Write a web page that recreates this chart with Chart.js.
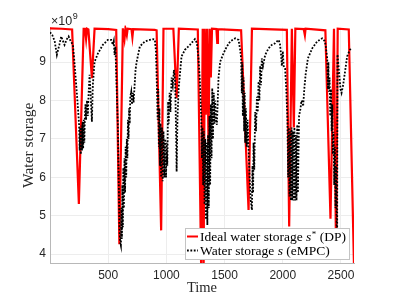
<!DOCTYPE html>
<html>
<head>
<meta charset="utf-8">
<script src="https://cdn.jsdelivr.net/npm/chart.js@4/dist/chart.umd.min.js"></script>
<style>
    body { margin: 0; background: #fff; }
    #wrap { width: 399px; height: 299px; }
</style>
</head>
<body>
<div id="wrap"><canvas id="myChart" width="399" height="299"></canvas></div>
<script>
// storage values are in units of 1e9 (axis shows x10^9)
var dpTime = [0, 100, 190, 248, 289, 300, 310, 318, 330, 360, 383, 500, 569, 596, 626,
    640, 648, 660, 667, 700, 708, 715, 900, 916, 955, 975, 1060, 1088, 1107, 1270,
    1299, 1312, 1320, 1330, 1339, 1350, 1362, 1372, 1382, 1392, 1430, 1437, 1443, 1642, 1706,
    1735, 2035, 2055, 2078, 2095, 2108, 2180, 2190, 2196, 2366, 2410, 2440, 2458, 2472, 2567,
    2612];
var dpStorage = [9.88, 9.87, 9.85, 5.31, 9.87, 9.87, 9.6, 9.87, 9.85, 8.58, 9.87, 9.86, 9.84, 4.26, 9.88,
    9.6, 9.87, 9.7, 9.87, 9.86, 9.65, 9.86, 9.84, 9.83, 4.62, 9.87, 9.87, 8.06, 9.87, 9.85,
    3.6, 9.87, 3.6, 9.87, 7.63, 9.87, 6.85, 9.87, 8.6, 9.87, 9.86, 9.5, 9.86, 9.83, 5.15,
    9.87, 9.84, 4.72, 9.87, 7.3, 9.87, 9.86, 9.7, 9.87, 9.83, 4.92, 9.87, 3.85, 9.87, 9.85,
    3.7];

var mpcTime = [
    0, 20, 40, 59, 80, 96, 112, 125, 145, 160, 177, 197, 210, 225, 238, 250,
    255, 260, 265, 270, 275, 280, 285, 290, 295, 300, 305, 310, 318, 325, 332, 340,
    350, 360, 368, 383, 412, 454, 497, 526, 540, 548, 555, 562, 569, 576, 583, 590,
    598, 603, 609, 614, 618, 622, 626, 630, 635, 640, 645, 650, 655, 660, 665, 670,
    675, 680, 685, 690, 698, 705, 712, 718, 735, 744, 772, 815, 858, 887, 901, 910,
    916, 925, 930, 935, 940, 945, 950, 955, 962, 968, 975, 982, 990, 997, 1002, 1008,
    1015, 1020, 1028, 1035, 1045, 1055, 1065, 1075, 1082, 1088, 1095, 1105, 1116, 1130, 1159, 1202,
    1245, 1262, 1276, 1288, 1300, 1305, 1310, 1316, 1322, 1328, 1334, 1340, 1346, 1352, 1358, 1364,
    1370, 1376, 1382, 1388, 1394, 1400, 1407, 1413, 1419, 1427, 1434, 1448, 1462, 1491, 1520, 1548,
    1591, 1620, 1635, 1642, 1648, 1652, 1657, 1663, 1668, 1673, 1677, 1683, 1690, 1697, 1706, 1715,
    1725, 1735, 1740, 1745, 1749, 1755, 1763, 1770, 1778, 1785, 1792, 1799, 1806, 1813, 1820, 1830,
    1849, 1878, 1906, 1934, 1963, 1975, 1985, 1992, 2000, 2008, 2020, 2030, 2040, 2046, 2052, 2058,
    2064, 2070, 2076, 2082, 2088, 2094, 2100, 2106, 2112, 2118, 2124, 2130, 2140, 2153, 2160, 2167,
    2175, 2185, 2196, 2216, 2253, 2296, 2339, 2360, 2368, 2382, 2388, 2392, 2396, 2402, 2408, 2414,
    2420, 2425, 2430, 2436, 2442, 2448, 2453, 2458, 2463, 2467, 2470, 2482, 2496, 2505, 2519, 2539,
    2553, 2576, 2585];
var mpcStorage = [
    9.78, 9.70, 9.55, 9.19, 9.45, 9.67, 9.55, 9.45, 9.6, 9.67, 9.55, 9.45, 9.0, 8.41, 7.9, 7.37,
    6.7, 7.3, 6.6, 7.35, 6.7, 7.45, 6.75, 7.5, 6.9, 7.6, 7.9, 7.5, 8.0, 7.6, 8.2, 8.67,
    8.1, 7.45, 8.4, 9.01, 9.23, 9.45, 9.58, 9.58, 9.45, 9.55, 9.19, 9.4, 8.67, 8.0, 7.37, 6.0,
    4.6, 4.3, 4.22, 5.2, 4.4, 5.8, 4.7, 6.25, 5.2, 6.5, 5.6, 6.8, 6.0, 7.0, 6.5, 7.5,
    7.0, 7.8, 7.4, 8.1, 8.23, 7.9, 8.2, 7.95, 8.8, 9.0, 9.41, 9.54, 9.58, 9.6, 9.58, 9.3,
    8.67, 7.5, 8.3, 6.8, 7.8, 6.3, 7.4, 6.0, 7.3, 5.9, 7.2, 6.0, 7.0, 6.0, 6.9, 6.3,
    7.97, 7.4, 8.2, 7.7, 8.6, 8.4, 8.8, 8.5, 7.4, 6.15, 7.5, 8.3, 8.67, 9.15, 9.32, 9.45,
    9.6, 9.5, 9.1, 8.5, 7.5, 6.5, 7.3, 5.8, 7.2, 5.3, 7.0, 4.9, 6.9, 4.76, 7.1, 5.2,
    7.6, 5.8, 7.9, 6.5, 8.32, 7.0, 8.2, 7.4, 8.0, 7.5, 7.37, 8.6, 9.01, 9.23, 9.41, 9.54,
    9.62, 9.58, 9.3, 9.1, 8.2, 9.0, 7.6, 8.6, 7.2, 8.2, 6.9, 7.8, 6.8, 7.5, 6.77, 6.0,
    5.4, 5.15, 6.3, 5.6, 6.9, 6.2, 7.7, 7.2, 8.1, 7.7, 8.5, 8.0, 8.9, 8.4, 9.1, 8.9,
    9.19, 9.36, 9.45, 9.49, 9.58, 9.5, 9.2, 8.9, 9.28, 8.9, 8.84, 8.3, 7.5, 6.0, 7.3, 5.5,
    7.2, 5.4, 7.3, 5.4, 7.2, 5.4, 7.3, 5.4, 7.1, 5.4, 7.37, 5.6, 7.6, 7.8, 8.0, 7.97,
    7.85, 8.3, 8.67, 9.1, 9.36, 9.54, 9.62, 9.55, 9.45, 9.1, 8.3, 9.0, 8.23, 8.6, 7.6, 8.3,
    7.2, 7.9, 6.6, 7.19, 5.8, 6.8, 5.2, 6.3, 4.76, 3.9, 9.2, 8.8, 8.3, 8.2, 8.41, 8.84,
    9.15, 9.32, 9.35];

var xTicks = [500, 1000, 1500, 2000, 2500];
var yTicks = [4, 5, 6, 7, 8, 9];

var legendRows = [
    {color: '#ff0000', dash: [], width: 2, pre: 'Ideal water storage ', sym: 's', sup: '*', post: ' (DP)'},
    {color: '#000000', dash: [1.8, 1.6], width: 1.8, pre: 'Water storage ', sym: 's', sup: '', post: ' (eMPC)'}
];

function toPoints(t, v) {
    var pts = [];
    for (var i = 0; i < t.length; i++) {
        pts.push({x: t[i], y: v[i]});
    }
    return pts;
}

const serif = '"Liberation Serif", "DejaVu Serif", serif';
const sans = '"Liberation Sans", Arial, sans-serif';

const boxLegend = {
    id: 'boxLegend',
    afterDraw(chart) {
        const c = chart.ctx;
        c.save();
        // exponent label above the y axis
        c.fillStyle = '#262626';
        c.textBaseline = 'alphabetic';
        c.font = '12.5px ' + sans;
        c.fillText('\u00d710', 51, 25);
        var w = c.measureText('\u00d710').width;
        c.font = '9px ' + sans;
        c.fillText('9', 51 + w + 0.5, 19);

        // legend box
        const x0 = 185, y0 = 228, bw = 164, bh = 31;
        c.fillStyle = '#ffffff';
        c.fillRect(x0, y0, bw, bh);
        c.strokeStyle = '#c4c4c4';
        c.lineWidth = 1;
        c.strokeRect(x0 + 0.5, y0 + 0.5, bw, bh);

        legendRows.forEach((row, i) => {
            const y = 236.5 + i * 14;
            c.beginPath();
            c.setLineDash(row.dash);
            c.strokeStyle = row.color;
            c.lineWidth = row.width;
            c.moveTo(187, y);
            c.lineTo(198, y);
            c.stroke();
            c.setLineDash([]);

            var x = 200;
            const base = y + 4.5;
            c.fillStyle = '#000';
            c.font = '13.5px ' + serif;
            c.fillText(row.pre, x, base);
            x += c.measureText(row.pre).width;
            c.font = 'italic 13.5px ' + serif;
            c.fillText(row.sym, x, base);
            x += c.measureText(row.sym).width;
            if (row.sup) {
                c.font = '9px ' + serif;
                c.fillText(row.sup, x + 0.5, base - 4);
                x += c.measureText(row.sup).width + 0.5;
            }
            c.font = '13.5px ' + serif;
            c.fillText(row.post, x, base);
        });
        c.restore();
    }
};

const ctx = document.getElementById('myChart');
var chart = new Chart(ctx, {
    type: 'line',
    data: {
        datasets: [{
            label: 'Ideal water storage s* (DP)',
            data: toPoints(dpTime, dpStorage),
            borderColor: '#ff0000',
            borderWidth: 2.2,
            pointRadius: 0,
            tension: 0,
            order: 2,
            clip: {left: 0, top: 2, right: 0, bottom: 0}
        }, {
            label: 'Water storage s (eMPC)',
            data: toPoints(mpcTime, mpcStorage),
            borderColor: '#000000',
            borderWidth: 1.8,
            borderDash: [1.8, 1.6],
            pointRadius: 0,
            tension: 0,
            order: 1,
            clip: {left: 0, top: 2, right: 0, bottom: 0}
        }]
    },
    options: {
        responsive: false,
        animation: false,
        layout: {padding: {top: 27.6, right: 45, left: 0, bottom: 0}},
        plugins: {
            legend: {display: false},
            tooltip: {enabled: false}
        },
        scales: {
            x: {
                type: 'linear',
                min: 0,
                max: 2612,
                afterBuildTicks: s => { s.ticks = xTicks.map(v => ({value: v})); },
                afterFit: s => { s.height = 36; },
                ticks: {
                    font: {family: sans, size: 12},
                    color: '#262626',
                    padding: 5,
                    maxRotation: 0,
                    autoSkip: false,
                    callback: v => String(v)
                },
                grid: {color: '#ededed', drawTicks: false},
                border: {color: '#b8b8b8'},
                title: {
                    display: true,
                    text: 'Time',
                    color: '#262626',
                    font: {family: serif, size: 14.5},
                    padding: {top: 0, bottom: 2}
                }
            },
            y: {
                min: 3.77,
                max: 9.9,
                afterBuildTicks: s => { s.ticks = yTicks.map(v => ({value: v})); },
                afterFit: s => { s.width = 50; },
                ticks: {
                    font: {family: sans, size: 12},
                    color: '#262626',
                    padding: 4,
                    callback: v => String(v)
                },
                grid: {color: '#ededed', drawTicks: false},
                border: {color: '#b8b8b8'},
                title: {
                    display: true,
                    text: 'Water storage',
                    color: '#262626',
                    font: {family: serif, size: 15.5},
                    padding: {top: 20, bottom: 0}
                }
            }
        }
    },
    plugins: [boxLegend]
});
</script>
</body>
</html>
